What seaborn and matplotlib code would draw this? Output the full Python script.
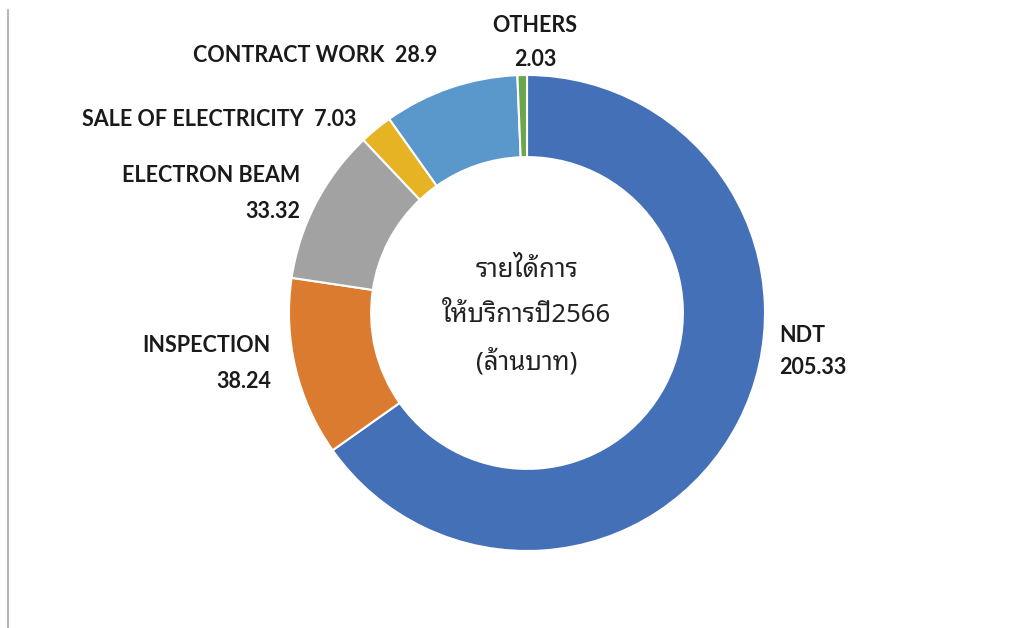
import matplotlib
matplotlib.use("Agg")
import matplotlib.pyplot as plt
from matplotlib import font_manager
from matplotlib.lines import Line2D
import seaborn as sns

# data (million baht), clockwise from 12 o'clock
categories = ['NDT', 'INSPECTION', 'ELECTRON BEAM', 'SALE OF ELECTRICITY', 'CONTRACT WORK', 'OTHERS']
revenue = [205.33, 38.24, 33.32, 7.03, 28.9, 2.03]
value_labels = ['205.33', '38.24', '33.32', '7.03', '28.9', '2.03']
center_lines = ['รายได้การ', 'ให้บริการปี2566', '(ล้านบาท)']

colors = sns.color_palette(['#4470B8', '#DB7B2F', '#A2A2A2', '#E5B323', '#5A97CB', '#6BA64A'])

sns.set_theme(style='white')
plt.rcParams['font.family'] = ['Lato', 'DejaVu Sans']

# pick a Thai font that is actually installed
names = {f.name for f in font_manager.fontManager.ttflist}
thai_font = 'Anuphan'
for cand in ['Noto Sans Thai Looped', 'Sarabun', 'Noto Sans Thai', 'Anuphan']:
    if cand in names:
        thai_font = cand
        break

W, H = 1036, 628
fig = plt.figure(figsize=(W / 100, H / 100), dpi=100)

# square axes centred on the donut centre (pixel coords)
cx, cy, r_px = 527, 313, 238
side = 628
ax = fig.add_axes([(cx - side / 2) / W, (H - cy - side / 2) / H, side / W, side / H])
lim = side / 2 / r_px
wedges, _ = ax.pie(revenue, colors=colors, startangle=90, counterclock=False,
                   radius=1, wedgeprops=dict(width=0.345, edgecolor='white', linewidth=1.5))
ax.set_xlim(-lim, lim)
ax.set_ylim(-lim, lim)
ax.set_aspect('equal')
ax.axis('off')


def px(x, y):
    # pixel position -> data coords
    return (x - cx) / r_px, (cy - y) / r_px


lab_kw = dict(fontsize=15.5, fontweight='bold', color='#1a1a1a')

# label placements (pixel positions, alignment)
x, y = px(535, 25); ax.text(x, y, 'OTHERS', ha='center', va='center', **lab_kw)
x, y = px(535, 59); ax.text(x, y, value_labels[5], ha='center', va='center', **lab_kw)
x, y = px(437, 55); ax.text(x, y, 'CONTRACT WORK  ' + value_labels[4], ha='right', va='center', **lab_kw)
x, y = px(357, 119); ax.text(x, y, 'SALE OF ELECTRICITY  ' + value_labels[3], ha='right', va='center', **lab_kw)
x, y = px(300, 176); ax.text(x, y, 'ELECTRON BEAM', ha='right', va='center', **lab_kw)
x, y = px(300, 212); ax.text(x, y, value_labels[2], ha='right', va='center', **lab_kw)
x, y = px(271, 345); ax.text(x, y, 'INSPECTION', ha='right', va='center', **lab_kw)
x, y = px(271, 381); ax.text(x, y, value_labels[1], ha='right', va='center', **lab_kw)
x, y = px(779, 335); ax.text(x, y, 'NDT', ha='left', va='center', **lab_kw)
x, y = px(779, 368); ax.text(x, y, value_labels[0], ha='left', va='center', **lab_kw)

# centre text
for line, yy in zip(center_lines, [270, 316, 362]):
    x, y = px(527, yy)
    ax.text(x, y, line, ha='center', va='center', fontsize=18.5, color='#222222',
            family=[thai_font, 'DejaVu Sans'])

# thin frame line on the left edge
fig.add_artist(Line2D([8 / W, 8 / W], [0, 1 - 10 / H], transform=fig.transFigure,
                      color='#b5b5b5', linewidth=1.5))

fig.savefig('out.png', dpi=100, facecolor='white')
